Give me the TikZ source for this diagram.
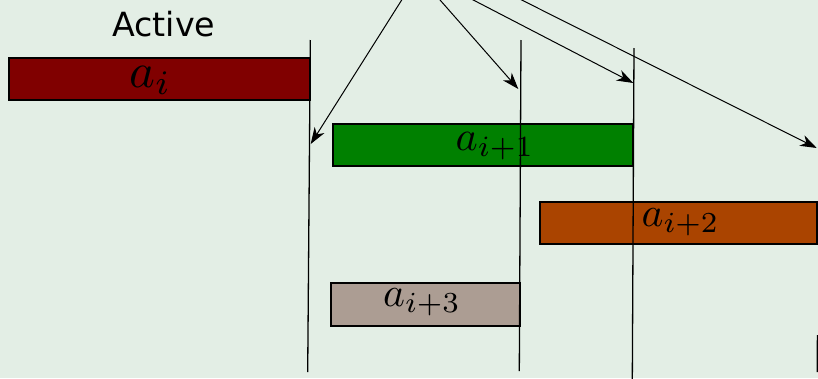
\documentclass[tikz,border=0pt]{standalone}
\usepackage{fontspec}
\usepackage{graphicx}
\newfontfamily\dejavu{DejaVu Sans}
\usetikzlibrary{arrows.meta}
\definecolor{bgc}{RGB}{227,238,229}
\definecolor{redbox}{RGB}{128,0,0}
\definecolor{greenbox}{RGB}{0,128,0}
\definecolor{orangebox}{RGB}{170,68,0}
\definecolor{graybox}{RGB}{172,157,147}
\tikzset{
  bar/.style={draw=black, line width=1.8pt, rectangle, inner sep=0pt},
  lbl/.style={inner sep=0pt, anchor=base west},
  vline/.style={draw=black, line width=1.3pt},
  arr/.style={draw=black, line width=1pt, -{Stealth[length=16.5pt, width=11.5pt, inset=5pt]}}
}
\begin{document}
\begin{tikzpicture}[x=1pt,y=-1pt]
\fill[bgc] (0,0) rectangle (818,378);
\useasboundingbox (0,0) rectangle (818,378);
\clip (0,0) rectangle (818,378);
% title
\node[inner sep=0pt, anchor=base west, font=\dejavu\fontsize{33.3}{34}\selectfont] (title) at (112,36) {Active};
% boxes
\node[bar, fill=redbox, minimum width=301pt, minimum height=42pt] (r) at (159.5,79) {};
\node[bar, fill=greenbox, minimum width=300pt, minimum height=42pt] (g) at (483,145) {};
\node[bar, fill=orangebox, minimum width=277pt, minimum height=42pt] (o) at (678.5,223) {};
\node[bar, fill=graybox, minimum width=189pt, minimum height=43pt] (gr) at (425.5,304.5) {};
% labels
\node[lbl] (lr) at (129,87.3) {\scalebox{4.9}{$a_i$}};
\node[lbl] (lg) at (455.5,150) {\scalebox{4.2}{$a_{i+1}$}};
\node[lbl] (lo) at (641.5,226.7) {\scalebox{4.15}{$a_{i+2}$}};
\node[lbl] (lgr) at (383,306.5) {\scalebox{4.15}{$a_{i+3}$}};
% vertical lines
\coordinate (v1t) at (310.3,40);  \coordinate (v1b) at (307.7,372);
\coordinate (v2t) at (521,40);    \coordinate (v2b) at (519.3,371);
\coordinate (v3t) at (634,48);    \coordinate (v3b) at (632.3,380);
\coordinate (v4t) at (817.4,335); \coordinate (v4b) at (817.3,372);
\draw[vline] (v1t) -- (v1b);
\draw[vline] (v2t) -- (v2b);
\draw[vline] (v3t) -- (v3b);
\draw[vline] (v4t) -- (v4b);
% arrows
\coordinate (s1) at (403.6,-3); \coordinate (e1) at (310.7,144);
\coordinate (s2) at (437.4,-3); \coordinate (e2) at (518.3,89);
\coordinate (s3) at (467.5,-3); \coordinate (e3) at (633.3,83);
\coordinate (s4) at (515.7,-3); \coordinate (e4) at (816.7,148);
\draw[arr] (s1) -- (e1);
\draw[arr] (s2) -- (e2);
\draw[arr] (s3) -- (e3);
\draw[arr] (s4) -- (e4);
\end{tikzpicture}
\end{document}
